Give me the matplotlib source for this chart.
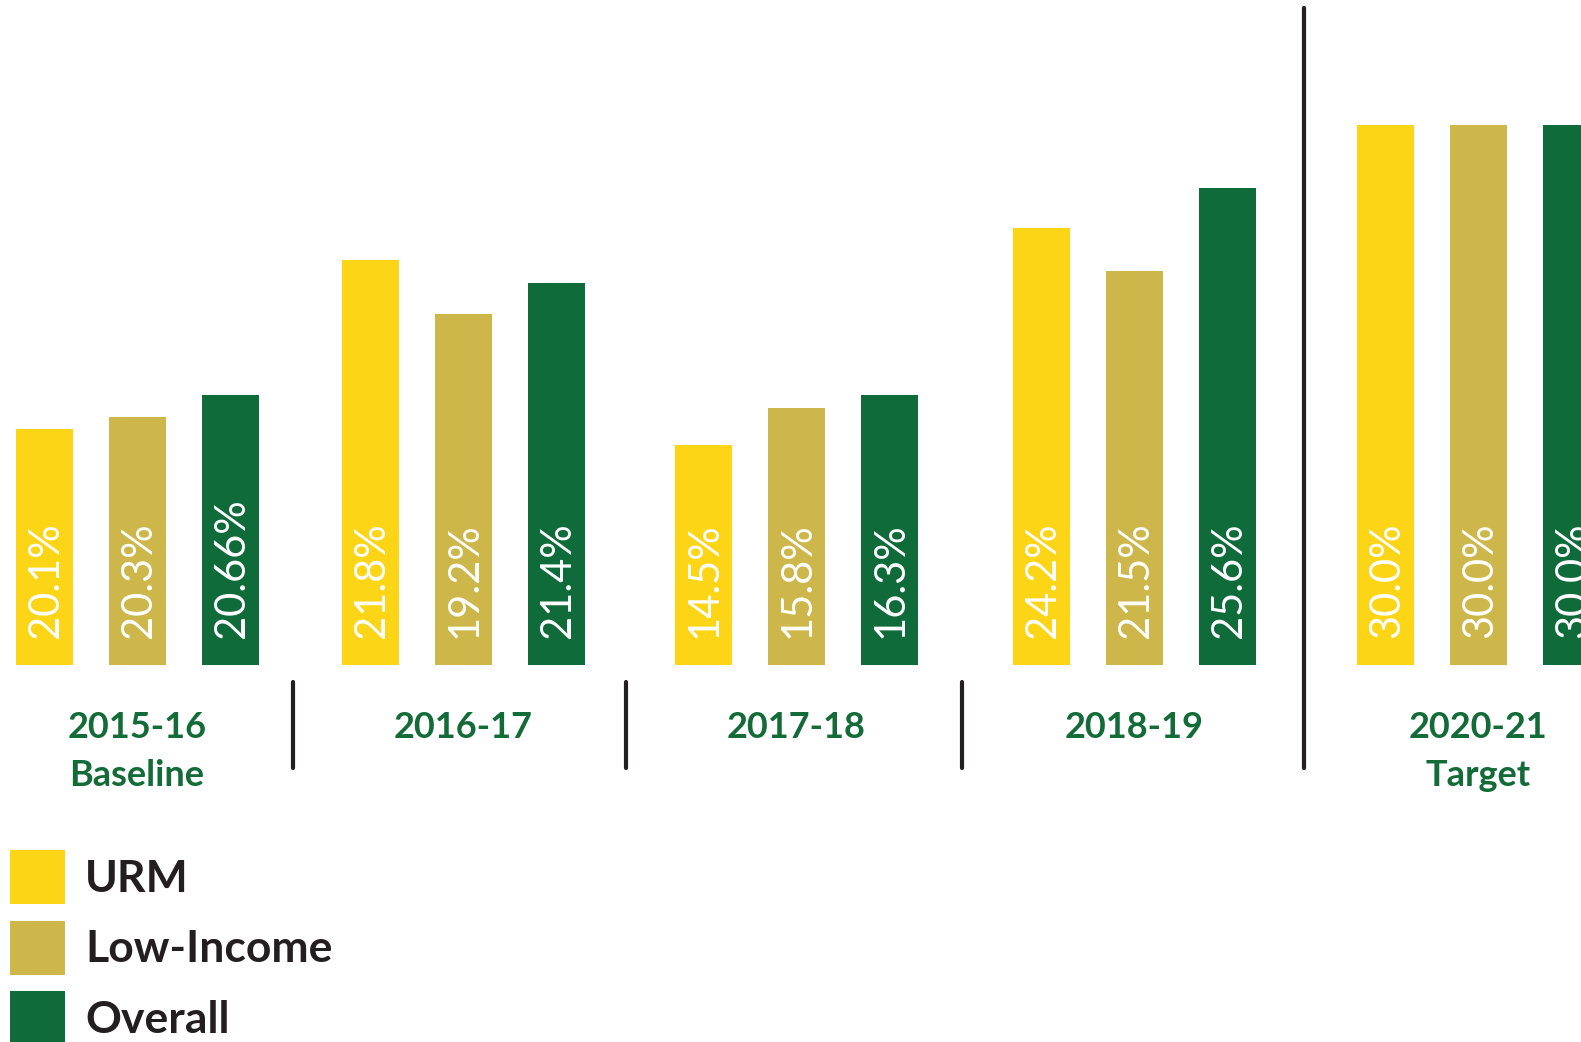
import matplotlib.pyplot as plt
from matplotlib.patches import Patch

# ---------------------------------------------------
# Data
# ---------------------------------------------------

years = ["2015-16\nBaseline", "2016-17", "2017-18", "2018-19", "2020-21\nTarget"]
series = ["URM", "Low-Income", "Overall"]

# labels printed on the bars
urm_labels = ["20.1%", "21.8%", "14.5%", "24.2%", "30.0%"]
low_income_labels = ["20.3%", "19.2%", "15.8%", "21.5%", "30.0%"]
overall_labels = ["20.66%", "21.4%", "16.3%", "25.6%", "30.0%"]

# drawn bar heights (as they appear in the original graphic)
urm_heights = [13.1, 22.5, 12.2, 24.3, 30.0]
low_income_heights = [13.8, 19.5, 14.3, 21.9, 30.0]
overall_heights = [15.0, 21.2, 15.0, 26.5, 30.0]

# ---------------------------------------------------
# Style
# ---------------------------------------------------

COLORS = ["#FCD516", "#CDB64A", "#106B3A"]
LABEL_GREEN = "#136B37"
DARK = "#231F20"
FONT = ["Lato", "DejaVu Sans"]

W, H = 1581, 1042
BASE = 665          # pixel row of the bar baseline
PX_PER_UNIT = 18.0  # pixels per height unit

group_x = [137, 463, 796, 1134, 1478]
offsets = [-93, 0, 93]
bar_w = 57
separators = [293, 626, 962]
target_sep = 1304

plt.rcParams["font.family"] = FONT

fig = plt.figure(figsize=(W / 100, H / 100), dpi=100)
ax = fig.add_axes([0, 0, 1, 1])
ax.set_xlim(0, W)
ax.set_ylim(-(H - BASE) / PX_PER_UNIT, BASE / PX_PER_UNIT)
ax.axis("off")


def py(pixel_row):
    # pixel row (from top) -> data y
    return (BASE - pixel_row) / PX_PER_UNIT


heights = [urm_heights, low_income_heights, overall_heights]
labels = [urm_labels, low_income_labels, overall_labels]

for s in range(3):
    xs = [g + offsets[s] for g in group_x]
    ax.bar(xs, heights[s], width=bar_w, color=COLORS[s], clip_on=False)
    for x, lab in zip(xs, labels[s]):
        ax.text(x + 2, py(638), lab, rotation=90, ha="center", va="bottom",
                color="white", fontsize=30, clip_on=False)

# category labels
for x, yr in zip(group_x, years):
    ax.text(x, py(711), yr, ha="center", va="top", color=LABEL_GREEN,
            fontsize=26, fontweight="bold", linespacing=1.55)

# separators
for sx in separators:
    ax.plot([sx, sx], [py(682), py(768)], color=DARK, lw=3,
            solid_capstyle="round")
ax.plot([target_sep, target_sep], [py(8), py(768)], color=DARK, lw=3,
        solid_capstyle="round")

# legend
handles = [Patch(facecolor=c, edgecolor="none") for c in COLORS]
leg = fig.legend(handles, series, loc="upper left",
                 bbox_to_anchor=(10 / W, 1 - 850 / H), frameon=False,
                 fontsize=32, handlelength=1.24, handleheight=1.5,
                 handletextpad=0.45, labelspacing=0.37, borderpad=0,
                 borderaxespad=0)
for t in leg.get_texts():
    t.set_color(DARK)
    t.set_fontweight("bold")

fig.savefig("out.png", dpi=100)
